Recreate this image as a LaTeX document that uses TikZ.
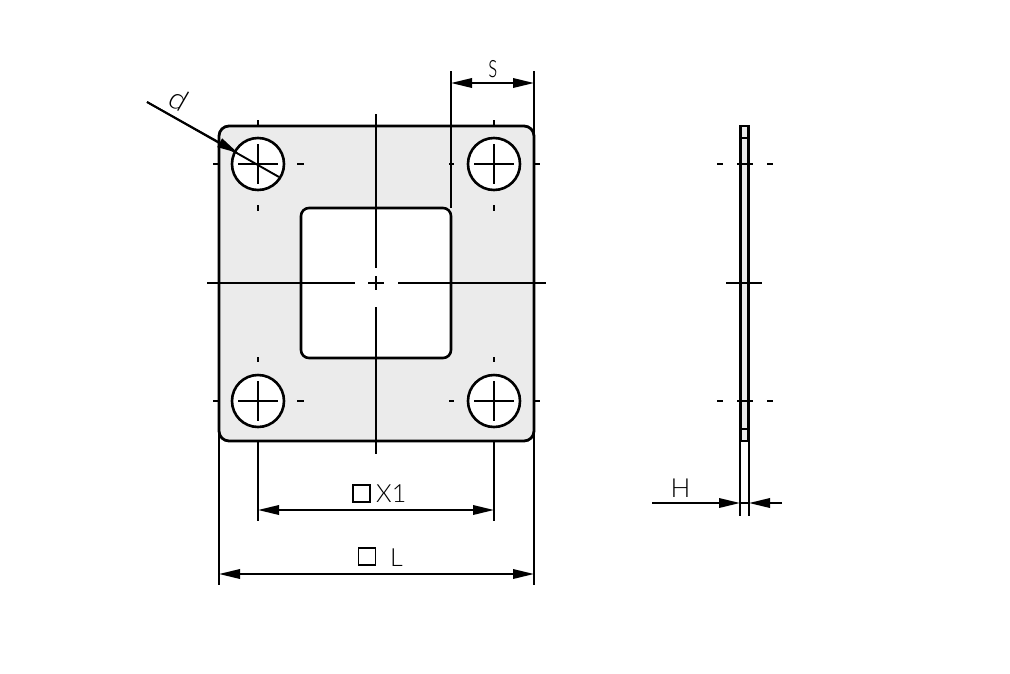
\documentclass[tikz,border=0pt]{standalone}
\usepackage{fontspec}
\setmainfont{Lato Light}
\newfontfamily\symfont{DejaVu Sans}
\usetikzlibrary{arrows.meta}
\definecolor{platefill}{HTML}{EBEBEB}
\tikzset{
  outline/.style={draw=black,line width=2.8pt,fill=platefill,inner sep=0pt,outer sep=0pt},
  holeshape/.style={circle,draw=black,line width=2.6pt,fill=white,inner sep=0pt,outer sep=0pt,minimum size=52pt},
  thin line/.style={draw=black,line width=1.9pt},
  dimline/.style={draw=black,line width=1.9pt,{Triangle[length=21pt,width=9.5pt]}-{Triangle[length=21pt,width=9.5pt]}},
  leader/.style={draw=black,line width=1.9pt,-{Triangle[length=21pt,width=9.5pt]}},
  label text/.style={inner sep=0pt,font=\fontsize{25}{25}\selectfont},
  square mark/.style={draw=black,line width=1.6pt,inner sep=0pt,minimum size=17pt}
}
\newcommand{\holecross}[2]{%
  \draw[thin line] (#1-20,#2) -- (#1+20,#2) (#1,#2-20) -- (#1,#2+20);
  \draw[thin line] (#1-45,#2) -- (#1-40,#2) (#1+39,#2) -- (#1+46,#2);
  \draw[thin line] (#1,#2-44) -- (#1,#2-39) (#1,#2+41) -- (#1,#2+47);}
\begin{document}
\begin{tikzpicture}[x=1pt,y=-1pt]
\useasboundingbox (0,0) rectangle (1010,673);
% plate
\node[outline,rounded corners=10pt,minimum width=315pt,minimum height=315pt] (plate) at (376.5,283.5) {};
\node[draw=black,line width=2.6pt,fill=white,rounded corners=8pt,inner sep=0pt,outer sep=0pt,minimum width=150pt,minimum height=150pt] (window) at (376,283) {};
\node[holeshape] (h1) at (258,164) {};
\node[holeshape] (h2) at (494,164) {};
\node[holeshape] (h3) at (258,401) {};
\node[holeshape] (h4) at (494,401) {};
\holecross{258}{164}
\holecross{494}{164}
\holecross{258}{401}
\holecross{494}{401}
% centre lines
\draw[thin line] (376,114) -- (376,268) (376,276) -- (376,290) (376,307) -- (376,454);
\draw[thin line] (207,283) -- (355,283) (368,283) -- (384,283) (398,283) -- (546,283);
% extension lines
\coordinate (sa) at (451,83);
\coordinate (sb) at (534,83);
\coordinate (xa) at (258,510);
\coordinate (xb) at (494,510);
\coordinate (la) at (219,574);
\coordinate (lb) at (534,574);
\draw[thin line] (451,71) -- (451,208) (534,71) -- (534,136);
\draw[thin line] (258,441) -- (258,521) (494,441) -- (494,521);
\draw[thin line] (219,431) -- (219,585) (534,431) -- (534,585);
% dimensions
\draw[dimline] (sa) -- (sb);
\draw[dimline] (xa) -- (xb);
\draw[dimline] (la) -- (lb);
\coordinate (ds) at (147,102);
\coordinate (de) at (279,177);
\coordinate (dt) at (238,153);
\draw[thin line] (ds) -- (de);
\draw[leader] (ds) -- (dt);
% labels
\node[label text,xscale=0.85,yscale=1.35] (ts) at (493,69) {s};
\node[label text,rotate=-30,scale=1.2] (td) at (179,99) {d};
\node[label text,anchor=west] (tx) at (376,494) {X1};
\node[label text,anchor=west] (tl) at (390,558) {L};
\node[label text,scale=1.05] (th) at (680.5,488) {H};
\node[square mark] (sq1) at (361.5,493.5) {};
\node[square mark] (sq2) at (367,556.5) {};
% side view
\node[outline,minimum width=8.5pt,minimum height=315pt] (side) at (744.5,283.5) {};
\draw[draw=black,line width=1.2pt] (side.west |- 0,138) -- (side.east |- 0,138) (side.west |- 0,429) -- (side.east |- 0,429);
\draw[line width=2.2pt] (740.2,441) -- (740.2,516) (748.8,441) -- (748.8,516);
\draw[thin line] (717,164) -- (723,164) (737,164) -- (753,164) (767,164) -- (773,164);
\draw[thin line] (717,401) -- (723,401) (737,401) -- (753,401) (767,401) -- (773,401);
\draw[thin line] (726,283) -- (762,283);
\coordinate (ha) at (652,503);
\coordinate (hb) at (740,503);
\coordinate (hc) at (782,503);
\coordinate (hd) at (749,503);
\draw[leader] (ha) -- (hb);
\draw[leader] (hc) -- (hd);
\draw[thin line] (hb) -- (hd);
\end{tikzpicture}
\end{document}
